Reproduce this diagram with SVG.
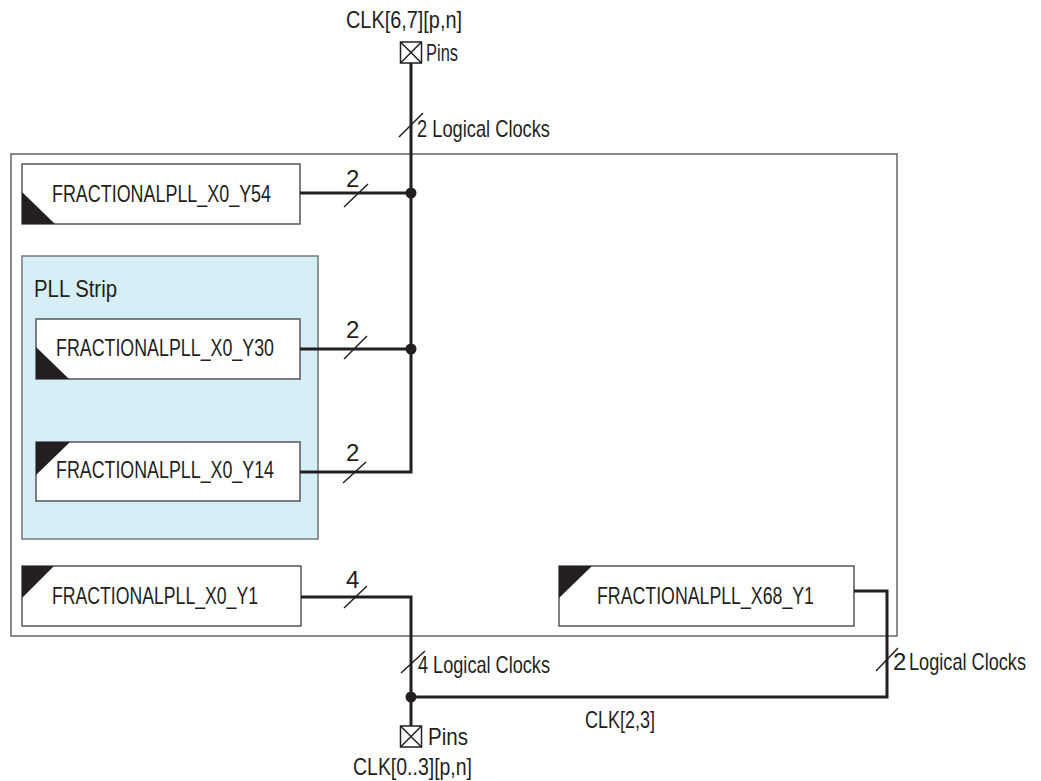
<svg xmlns="http://www.w3.org/2000/svg" width="1041" height="781" viewBox="0 0 1041 781">
<style>
text{font-family:"Liberation Sans Narrow","Liberation Sans",Arial,sans-serif;fill:#231f20;font-size:24px}
.box{fill:#fff;stroke:#555;stroke-width:1.5}
.tri{fill:#231f20}
.wire{fill:none;stroke:#231f20;stroke-width:3}
.slash{stroke:#231f20;stroke-width:1.5}
.pin{fill:#fff;stroke:#231f20;stroke-width:1.5}
</style>
<rect width="1041" height="781" fill="#fff"/>
<g id="outer"><rect x="11" y="154" width="886" height="482" fill="none" stroke="#666" stroke-width="1.5"/></g>
<g id="pllstrip"><rect x="22" y="256" width="296" height="283" fill="#d6eef5" stroke="#777" stroke-width="1.5"/>
<text x="34" y="297" font-size="26" textLength="83" lengthAdjust="spacingAndGlyphs">PLL Strip</text></g>
<g id="pll_x0_y54"><rect class="box" x="22" y="164" width="278" height="60"/><polygon class="tri" points="22,192 22,224 55,224"/>
<text x="52" y="202" textLength="219" lengthAdjust="spacingAndGlyphs">FRACTIONALPLL_X0_Y54</text></g>
<g id="pll_x0_y30"><rect class="box" x="36" y="319" width="264" height="60"/><polygon class="tri" points="36,347 36,379 69,379"/>
<text x="56" y="356" textLength="218" lengthAdjust="spacingAndGlyphs">FRACTIONALPLL_X0_Y30</text></g>
<g id="pll_x0_y14"><rect class="box" x="36" y="442" width="264" height="59"/><polygon class="tri" points="36,442 70,442 36,475"/>
<text x="56" y="478" textLength="218" lengthAdjust="spacingAndGlyphs">FRACTIONALPLL_X0_Y14</text></g>
<g id="pll_x0_y1"><rect class="box" x="22" y="566" width="279" height="60"/><polygon class="tri" points="22,566 54,566 22,598"/>
<text x="52" y="604" textLength="206" lengthAdjust="spacingAndGlyphs">FRACTIONALPLL_X0_Y1</text></g>
<g id="pll_x68_y1"><rect class="box" x="559" y="566" width="295" height="60"/><polygon class="tri" points="559,566 592,566 559,598"/>
<text x="597" y="604" textLength="217" lengthAdjust="spacingAndGlyphs">FRACTIONALPLL_X68_Y1</text></g>
<g id="pin_top"><rect class="pin" x="400.5" y="42" width="21" height="21"/><path class="slash" d="M400.5,42 L421.5,63 M421.5,42 L400.5,63"/>
<text x="346" y="28" textLength="116" lengthAdjust="spacingAndGlyphs">CLK[6,7][p,n]</text>
<text x="426" y="61" textLength="32" lengthAdjust="spacingAndGlyphs">Pins</text></g>
<g id="pin_bottom"><rect class="pin" x="400.5" y="726" width="21" height="21"/><path class="slash" d="M400.5,726 L421.5,747 M421.5,726 L400.5,747"/>
<text x="428" y="745" textLength="40" lengthAdjust="spacingAndGlyphs">Pins</text>
<text x="353" y="775" textLength="119" lengthAdjust="spacingAndGlyphs">CLK[0..3][p,n]</text></g>
<g id="connectors">
<path class="wire" d="M411,63 V472 H300"/>
<path class="wire" d="M300,193 H411"/>
<path class="wire" d="M300,349 H411"/>
<path class="wire" d="M301,597 H411 V726"/>
<path class="wire" d="M411,697 H887 V591 H854"/>
<circle cx="411" cy="193" r="5.5" fill="#231f20"/>
<circle cx="411" cy="349" r="5.5" fill="#231f20"/>
<circle cx="411" cy="697" r="5.5" fill="#231f20"/>
<path class="slash" d="M399,137 L423,113 M344,207 L368,184 M344,359 L367,336 M343,483 L366,462 M344,608 L367,586 M401,673 L425,651 M876,671 L898,648"/>
<text x="417" y="137" textLength="133" lengthAdjust="spacingAndGlyphs">2 Logical Clocks</text>
<text x="346" y="187">2</text>
<text x="346" y="338">2</text>
<text x="346" y="461">2</text>
<text x="346" y="588">4</text>
<text x="418" y="673" textLength="132" lengthAdjust="spacingAndGlyphs">4 Logical Clocks</text>
<text x="893" y="670">2</text>
<text x="909" y="670" font-size="22" textLength="117" lengthAdjust="spacingAndGlyphs">Logical Clocks</text>
<text x="585" y="728" textLength="70" lengthAdjust="spacingAndGlyphs">CLK[2,3]</text>
</g>
</svg>
